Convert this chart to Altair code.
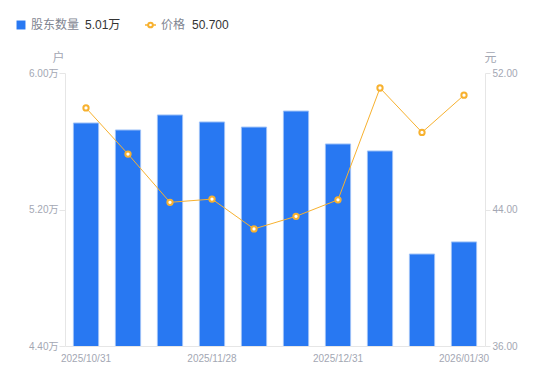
import altair as alt
import pandas as pd

dates = ["2025/10/31", "2025/11/10", "2025/11/20", "2025/11/28", "2025/12/10",
         "2025/12/19", "2025/12/31", "2026/01/09", "2026/01/20", "2026/01/30"]
holders = [5.707, 5.666, 5.754, 5.713, 5.683, 5.777, 5.584, 5.543, 4.939, 5.010]  # 万户
prices = [49.95, 47.25, 44.42, 44.61, 42.86, 43.60, 44.57, 51.12, 48.52, 50.70]
shown_dates = ["2025/10/31", "2025/11/28", "2025/12/31", "2026/01/30"]
left_ticks = [4.4, 5.2, 6.0]
right_ticks = [36, 44, 52]

FONT = "Liberation Sans, Noto Sans CJK SC, sans-serif"
GRAY = "#a3a7b3"
LINE = "#e6e6e6"
BLUE = "#2878f2"
ORANGE = "#f7b12f"

df = pd.DataFrame({"date": dates, "holders": holders, "price": prices})

x = alt.X("date:O", sort=dates, title=None,
          scale=alt.Scale(paddingInner=0.4, paddingOuter=0.2),
          axis=alt.Axis(values=shown_dates, labelAngle=0, ticks=False,
                        labelPadding=7, labelColor=GRAY, labelFontSize=10,
                        labelFont=FONT, domainColor=LINE, grid=False))

bars = alt.Chart(df).mark_bar(color=BLUE, stroke="#9cc0f7", strokeWidth=1, clip=True).encode(
    x=x,
    y=alt.Y("holders:Q", title="户",
            scale=alt.Scale(domain=[4.4, 6.0], zero=False, nice=False),
            axis=alt.Axis(values=left_ticks, labelExpr="format(datum.value, '.2f') + '万'",
                          grid=False, tickSize=6, tickColor=LINE, domainColor=LINE,
                          labelColor=GRAY, labelFontSize=10, labelFont=FONT, labelPadding=1,
                          titleAngle=0, titleX=-7, titleY=-16, titleAlign="center",
                          titleBaseline="middle", titleColor=GRAY, titleFontSize=12,
                          titleFontWeight="normal", titleFont=FONT)),
)

line = alt.Chart(df).mark_line(color=ORANGE, strokeWidth=1).encode(
    x=x,
    y=alt.Y("price:Q", title="元",
            scale=alt.Scale(domain=[36, 52], zero=False, nice=False),
            axis=alt.Axis(orient="right", values=right_ticks, format=".2f",
                          grid=False, tickSize=5, tickColor=LINE, domainColor=LINE,
                          labelColor=GRAY, labelFontSize=10, labelFont=FONT, labelPadding=2,
                          titleAngle=0, titleX=5, titleY=-16, titleAlign="center",
                          titleBaseline="middle", titleColor=GRAY, titleFontSize=12,
                          titleFontWeight="normal", titleFont=FONT)),
)

pts = alt.Chart(df).mark_point(shape="circle", filled=True, fill="white", stroke=ORANGE,
                               strokeWidth=2, size=28, opacity=1).encode(
    x=x, y=alt.Y("price:Q", scale=alt.Scale(domain=[36, 52], zero=False, nice=False), axis=None)
)

leg = pd.DataFrame({
    "l1": ["股东数量"], "v1": [f"{holders[-1]:.2f}万"],
    "l2": ["价格"], "v2": [f"{prices[-1]:.3f}"],
})
base = alt.Chart(leg)
sq = base.mark_square(color=BLUE, size=80, opacity=1, cornerRadius=2).encode(
    x=alt.value(-44), y=alt.value(-48))
t1 = base.mark_text(align="left", baseline="middle", font=FONT, fontSize=12, color="#7f8591").encode(
    x=alt.value(-34), y=alt.value(-48), text="l1:N")
v1 = base.mark_text(align="left", baseline="middle", font=FONT, fontSize=12, color="#333333").encode(
    x=alt.value(20), y=alt.value(-48), text="v1:N")
sl = base.mark_rule(color=ORANGE, strokeWidth=1.5).encode(
    x=alt.value(80), x2=alt.value(91), y=alt.value(-48))
sp = base.mark_point(shape="circle", filled=True, fill="white", stroke=ORANGE,
                     strokeWidth=2, size=22, opacity=1).encode(x=alt.value(85.5), y=alt.value(-48))
t2 = base.mark_text(align="left", baseline="middle", font=FONT, fontSize=12, color="#7f8591").encode(
    x=alt.value(96), y=alt.value(-48), text="l2:N")
v2 = base.mark_text(align="left", baseline="middle", font=FONT, fontSize=12, color="#333333").encode(
    x=alt.value(127), y=alt.value(-48), text="v2:N")

chart = alt.layer(bars, line, pts, sq, t1, v1, sl, sp, t2, v2).resolve_scale(
    y="independent"
).properties(
    width=420, height=273,
    autosize=alt.AutoSizeParams(type="none"),
    padding={"left": 57, "top": 65, "right": 57, "bottom": 27},
).configure_view(stroke=None)

chart.save("out.html", embed_options={"renderer": "svg", "actions": False})
